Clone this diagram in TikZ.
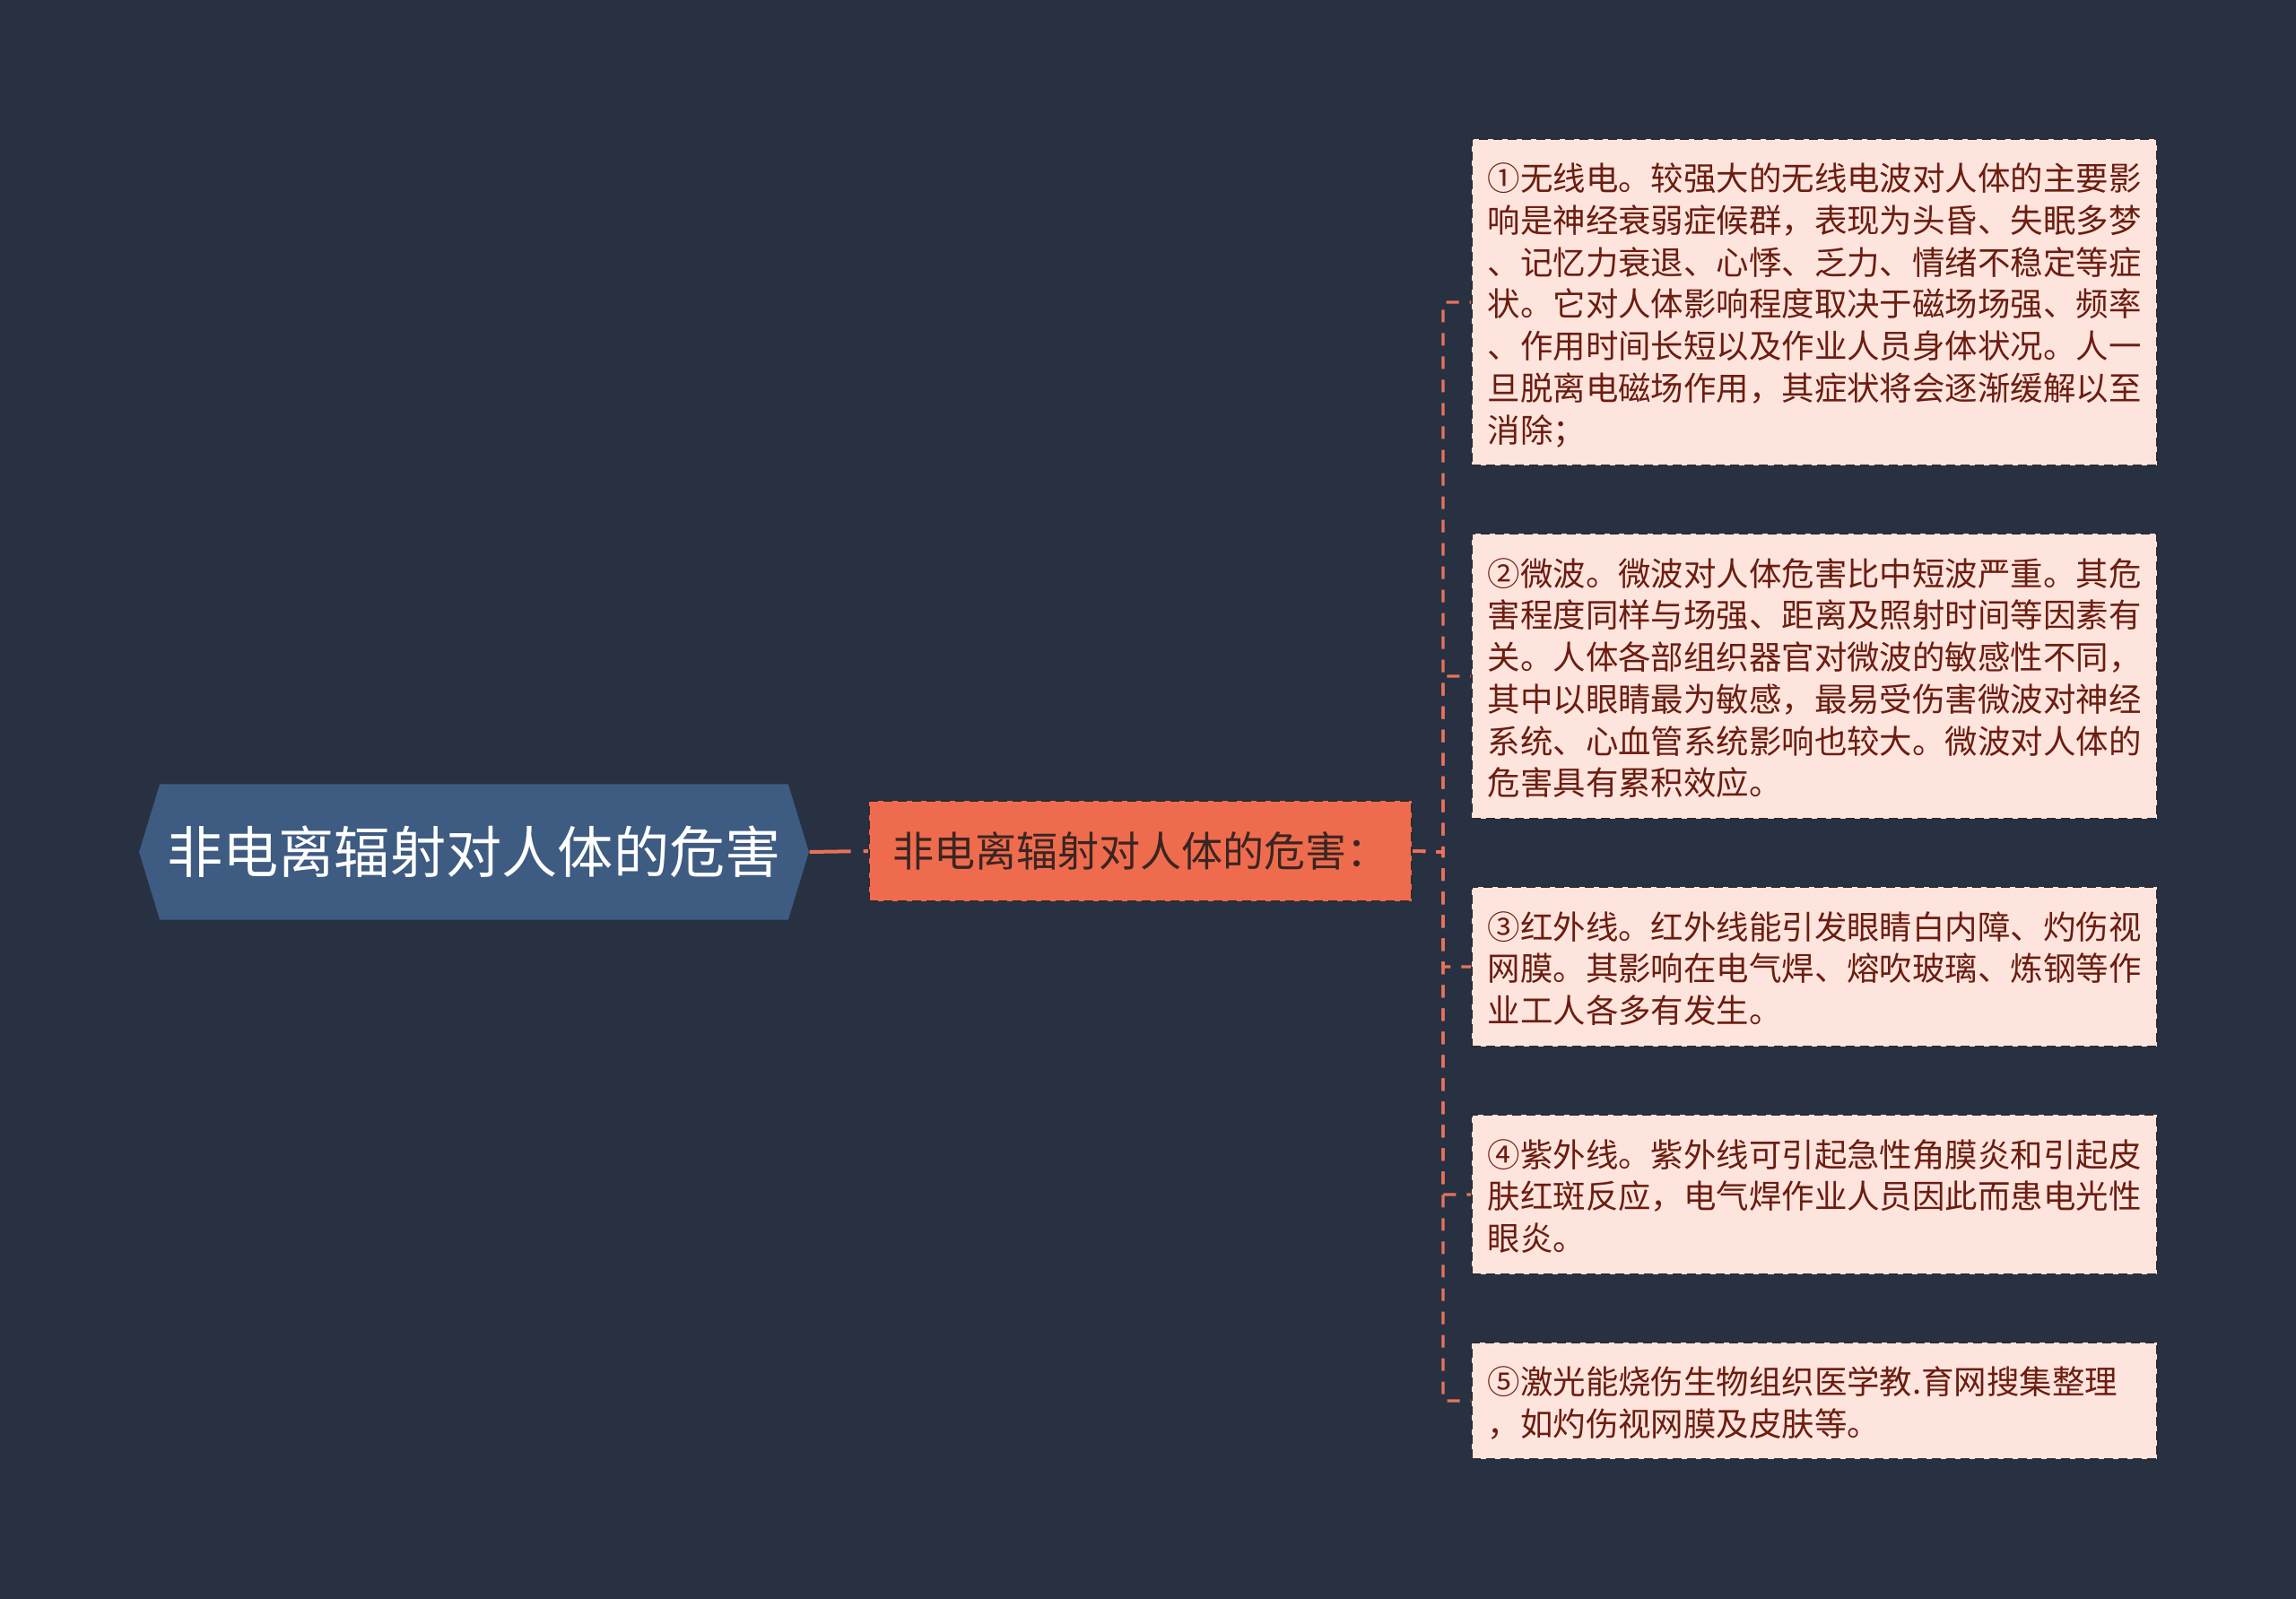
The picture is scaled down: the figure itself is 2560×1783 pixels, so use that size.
\documentclass[tikz,border=0pt]{standalone}
\usepackage{fontspec}
\newfontfamily\cjk{Noto Sans CJK SC}
\usetikzlibrary{shapes.symbols}

\definecolor{bgnavy}{HTML}{283142}
\definecolor{rootblue}{HTML}{3E5B82}
\definecolor{branchred}{HTML}{EE6C4D}
\definecolor{branchtext}{HTML}{3B2522}
\definecolor{leafpink}{HTML}{FDE4DD}
\definecolor{leaftext}{HTML}{6B1D10}
\definecolor{edgedark}{HTML}{2E2A30}
\definecolor{linkred}{HTML}{E8735A}

\tikzset{
  rootnode/.style={signal, signal to=west and east, signal pointer angle=146,
    fill=rootblue, text=white, font=\cjk\fontsize{17.7}{21}\selectfont,
    minimum height=1.51cm, inner xsep=0.08cm, inner ysep=0pt},
  branchnode/.style={rectangle, fill=branchred, draw=edgedark, line width=0.6pt,
    dash pattern=on 0.1cm off 0.06cm, text=branchtext,
    font=\cjk\fontsize{13.1}{16}\selectfont,
    minimum width=6.05cm, minimum height=1.12cm, inner sep=0pt},
  leafnode/.style={rectangle, fill=leafpink, draw=edgedark, line width=0.6pt,
    dash pattern=on 0.1cm off 0.06cm, text=leaftext,
    font=\cjk\fontsize{10.36}{13.29}\selectfont,
    text width=7.28cm, align=left, inner xsep=0.175cm, inner ysep=0.185cm,
    execute at begin node=\rule{0pt}{11.2pt},
    execute at end node=\rule[-2.1pt]{0pt}{2.1pt}},
  rootlink/.style={draw=linkred, line width=1.14pt, dash pattern=on 0.46cm off 0.14cm},
  leaflink/.style={draw=linkred, line width=0.95pt, dash pattern=on 0.14cm off 0.12cm}
}

\begin{document}
\begin{tikzpicture}[x=0.01cm, y=-0.01cm]
    \fill [bgnavy] (0,0) rectangle (2560,1783);
    \node [rootnode] (root) at (528.5,950) {非电离辐射对人体的危害};
    \node [branchnode] (harm) at (1271.5,949) {非电离辐射对人体的危害：};
    \coordinate (fork) at (1609,950);
    \node [leafnode] (radio) at (2023,337) {①无线电。较强大的无线电波对人体的主要影\\响是神经衰弱症候群，表现为头昏、失眠多梦\\、记忆力衰退、心悸、乏力、情绪不稳定等症\\状。它对人体影响程度取决于磁场场强、频率\\、作用时间长短以及作业人员身体状况。人一\\旦脱离电磁场作用，其症状将会逐渐缓解以至\\消除；};
    \node [leafnode] (micro) at (2023,754) {②微波。微波对人体危害比中短波严重。其危\\害程度同样与场强、距离及照射时间等因素有\\关。人体各部组织器官对微波的敏感性不同，\\其中以眼睛最为敏感，最易受伤害微波对神经\\系统、心血管系统影响也较大。微波对人体的\\危害具有累积效应。};
    \node [leafnode] (infra) at (2023,1078) {③红外线。红外线能引发眼睛白内障、灼伤视\\网膜。其影响在电气焊、熔吹玻璃、炼钢等作\\业工人各多有发生。};
    \node [leafnode] (ultra) at (2023,1332) {④紫外线。紫外线可引起急性角膜炎和引起皮\\肤红斑反应，电气焊作业人员因此而患电光性\\眼炎。};
    \node [leafnode] (laser) at (2023,1562) {⑤激光能烧伤生物组织医学教.育网搜集整理\\，如灼伤视网膜及皮肤等。};
    \draw [rootlink] (root.east) -- (harm.west);
    \draw [leaflink] (harm.east) -- (fork) |- (radio.west);
    \draw [leaflink] (harm.east) -- (fork) |- (micro.west);
    \draw [leaflink] (harm.east) -- (fork) |- (infra.west);
    \draw [leaflink] (harm.east) -- (fork) |- (ultra.west);
    \draw [leaflink] (harm.east) -- (fork) |- (laser.west);
\end{tikzpicture}
\end{document}
